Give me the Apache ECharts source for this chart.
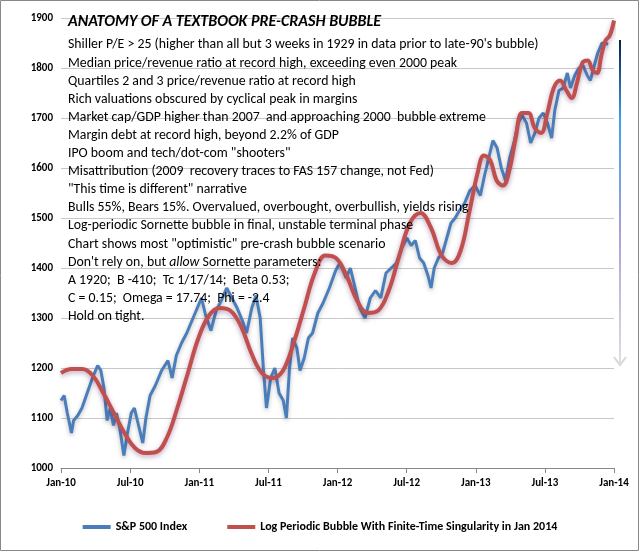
<!DOCTYPE html>
<html><head><meta charset="utf-8">
<script src="https://cdn.jsdelivr.net/npm/echarts@6/dist/echarts.min.js"></script>
<style>body{margin:0}#c{width:640px;height:552px}</style></head>
<body><div id="c"></div>
<script>
const tickLabels=['Jan-10','Jul-10','Jan-11','Jul-11','Jan-12','Jul-12','Jan-13','Jul-13','Jan-14'];
// [months since Jan 2010 (raw reading, rescaled below), value]
const spx=[[0,1135],[0.3,1145],[0.6,1110],[1,1070],[1.2,1095],[1.6,1105],[2,1120],[2.5,1150],[3,1180],[3.5,1205],[3.8,1195],[4.1,1160],[4.4,1095],[4.7,1120],[5,1085],[5.3,1110],[5.6,1080],[6,1025],[6.3,1065],[6.7,1110],[7,1120],[7.4,1085],[7.8,1050],[8.1,1100],[8.5,1145],[9,1165],[9.6,1195],[10.2,1215],[10.6,1180],[11,1225],[11.5,1250],[12,1270],[12.5,1295],[13,1320],[13.4,1340],[13.8,1305],[14.3,1275],[14.8,1315],[15.3,1335],[15.8,1360],[16.3,1340],[16.8,1320],[17.3,1295],[17.7,1270],[18.2,1320],[18.6,1345],[19,1300],[19.3,1200],[19.6,1120],[20,1180],[20.4,1200],[20.8,1150],[21.2,1135],[21.5,1100],[21.8,1200],[22.1,1260],[22.5,1240],[22.8,1195],[23.2,1220],[23.6,1260],[24,1270],[24.5,1310],[25,1330],[25.6,1360],[26.2,1395],[26.6,1410],[27.2,1380],[27.6,1400],[28,1365],[28.5,1320],[29,1300],[29.5,1340],[30,1355],[30.5,1340],[31,1390],[31.5,1400],[32,1410],[32.5,1440],[33,1460],[33.4,1445],[33.8,1455],[34.2,1420],[34.6,1410],[35,1385],[35.3,1360],[35.6,1400],[36,1420],[36.4,1430],[36.8,1460],[37.2,1490],[37.6,1500],[38,1515],[38.5,1530],[39,1555],[39.5,1565],[40,1545],[40.4,1585],[40.8,1620],[41.2,1655],[41.6,1640],[42,1600],[42.4,1575],[42.8,1620],[43.2,1650],[43.6,1690],[44,1705],[44.4,1690],[44.8,1650],[45.2,1670],[45.6,1700],[46,1710],[46.4,1690],[46.8,1660],[47.1,1715],[47.5,1755],[47.9,1760],[48.3,1790],[48.6,1760],[49,1785],[49.4,1800],[49.8,1805],[50.2,1785],[50.5,1775],[50.8,1800],[51.2,1830],[51.6,1850],[52.2,1848]];
const bubble=[[0,1190],[1,1198],[2,1198],[3,1185],[4,1150],[5,1110],[6,1070],[7,1040],[8,1030],[9,1032],[10,1060],[11,1120],[12,1190],[13,1260],[14,1305],[15,1320],[16,1315],[17,1285],[18,1230],[19,1190],[20,1180],[21,1195],[22,1250],[23,1320],[24,1390],[25,1425],[26,1420],[27,1385],[28,1335],[29,1310],[30,1315],[31,1355],[32,1425],[33,1490],[34,1510],[35,1480],[36,1425],[37,1410],[37.8,1435],[38.6,1510],[39.4,1590],[40,1625],[40.6,1615],[41.2,1575],[41.8,1565],[42.4,1595],[43,1660],[43.6,1710],[44.2,1710],[44.8,1680],[45.4,1670],[46,1710],[46.6,1760],[47.2,1775],[47.8,1755],[48.3,1740],[48.8,1770],[49.3,1810],[49.8,1815],[50.3,1795],[50.7,1790],[51.1,1825],[51.5,1855],[51.9,1865],[52.3,1895]];
const notes=['Shiller P/E > 25 (higher than all but 3 weeks in 1929 in data prior to late-90\'s bubble)','Median price/revenue ratio at record high, exceeding even 2000 peak','Quartiles 2 and 3 price/revenue ratio at record high','Rich valuations obscured by cyclical peak in margins','Market cap/GDP higher than 2007  and approaching 2000  bubble extreme','Margin debt at record high, beyond 2.2% of GDP','IPO boom and tech/dot-com "shooters"','Misattribution (2009  recovery traces to FAS 157 change, not Fed)','"This time is different" narrative','Bulls 55%, Bears 15%. Overvalued, overbought, overbullish, yields rising','Log-periodic Sornette bubble in final, unstable terminal phase','Chart shows most "optimistic" pre-crash bubble scenario','Don\'t rely on, but {i|allow} Sornette parameters:','A 1920;  B -410;  Tc 1/17/14;  Beta 0.53;','C = 0.15;  Omega = 17.74;  Phi = -2.4','Hold on tight.'];
const ch=echarts.init(document.getElementById('c'));
const F='Calibri, Carlito, "Liberation Sans", sans-serif';
ch.setOption({
 animation:false,
 backgroundColor:'#fff',
 grid:{left:61,right:26,top:18,bottom:84},
 xAxis:{type:'value',min:0,max:48,interval:6,
  axisLine:{lineStyle:{color:'#888'}},axisTick:{show:true,length:5,lineStyle:{color:'#888'}},
  splitLine:{show:false},
  axisLabel:{formatter:v=>tickLabels[v/6],color:'#000',fontWeight:'bold',fontSize:11,fontFamily:F,margin:10}},
 yAxis:{type:'value',min:1000,max:1900,interval:100,
  axisLine:{show:false},axisTick:{show:false},
  splitLine:{lineStyle:{color:'#c8c8c8'}},
  axisLabel:{formatter:v=>String(v),color:'#000',fontWeight:'bold',fontSize:11,fontFamily:F}},
 legend:{bottom:14,left:'center',itemWidth:28,itemHeight:4,itemGap:40,icon:'rect',
  textStyle:{fontSize:12,fontFamily:F,color:'#000',fontWeight:'bold'}},
 series:[
  {name:'S&P 500 Index',type:'line',data:spx.map(p=>[p[0]*47.5/52.2,p[1]]),showSymbol:false,
   lineStyle:{color:'#4a7ebb',width:3,shadowColor:'rgba(0,0,0,0.25)',shadowBlur:4,shadowOffsetY:2},itemStyle:{color:'#4a7ebb'},z:2},
  {name:'Log Periodic Bubble With Finite-Time Singularity in Jan 2014',type:'line',smooth:0.4,data:bubble.map(p=>[p[0]*48/52.3,p[1]]),showSymbol:false,
   lineStyle:{color:'#c0504d',width:4,shadowColor:'rgba(60,0,80,0.35)',shadowBlur:5,shadowOffsetY:2},itemStyle:{color:'#c0504d'},z:3}
 ],
 graphic:[
  {type:'rect',shape:{x:0.5,y:0.5,width:638,height:550},style:{fill:null,stroke:'#888',lineWidth:1},silent:true},
  {type:'text',left:68,top:14,z:11,style:{text:'ANATOMY OF A TEXTBOOK PRE-CRASH BUBBLE',font:'italic bold 16px '+F,fill:'#000'}},
  {type:'text',left:68,top:36,z:11,style:{text:notes.join('\n'),font:'13.8px '+F,fill:'#000',lineHeight:18.1,
   rich:{i:{fontStyle:'italic',fontSize:13.8,fontFamily:F}}}},
  {type:'line',shape:{x1:620,y1:40,x2:620,y2:363},style:{lineWidth:2,stroke:new echarts.graphic.LinearGradient(0,0,0,1,[{offset:0,color:'#0a1a40'},{offset:0.25,color:'#3ea0f0'},{offset:0.6,color:'#a9a0d8'},{offset:1,color:'#e0e0e0'}])}},
  {type:'polyline',shape:{points:[[614,357],[620,365],[626,357]]},style:{stroke:'#d8d8d8',lineWidth:2,fill:null}}
 ]
});
</script></body></html>
